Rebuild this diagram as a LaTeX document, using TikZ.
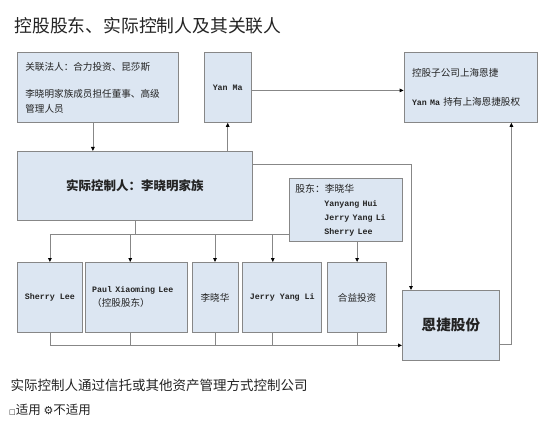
\documentclass[tikz,border=0pt]{standalone}
\usepackage{fontspec}
\setmainfont{Noto Sans CJK SC}
\newfontfamily\monof{Liberation Mono}
\newfontfamily\symf{DejaVu Sans}
\usetikzlibrary{arrows.meta, positioning}
\definecolor{kuanglan}{RGB}{220, 230, 242}
\definecolor{xianhui}{RGB}{135, 135, 135}
\definecolor{zihei}{RGB}{35, 35, 35}
\newcommand{\en}[1]{{\monof\bfseries #1}}

\begin{document}
\begin{tikzpicture}[x=1pt, y=-1pt,
                box/.style={draw=xianhui, fill=kuanglan, line width=0.8pt, inner sep=0pt, minimum height=70pt, text=zihei, font=\fontsize{9.6}{14}\selectfont},
                link/.style={draw=xianhui, line width=0.8pt},
                arrow/.style={link, -{Triangle[length=4pt, width=3.6pt, color=black]}}
            ]
                \useasboundingbox (0,0) rectangle (554,422);
                \node[anchor=west, text=zihei, font=\fontsize{17.8}{20}\selectfont] (title) at (11,26) {控股股东、实际控制人及其关联人};

                % 上排
                \node[box, anchor=north west, minimum width=161pt, text width=145pt, align=left, font=\fontsize{9.6}{15}\selectfont] (rel) at (17,52) {关联法人：合力投资、昆莎斯\\[12pt]李晓明家族成员担任董事、高级\\管理人员};
                \node[box, minimum width=47pt, right=25pt of rel] (yanma) {\en{\fontsize{8.3}{10}\selectfont Yan Ma}};
                \node[box, minimum width=133pt, text width=117pt, align=left, right=152pt of yanma] (sub) {控股子公司上海恩捷\\[15pt]\en{\fontsize{8.3}{10}\selectfont Yan Ma} 持有上海恩捷股权};

                % 实际控制人
                \node[box, anchor=north west, minimum width=235pt, minimum height=69pt, font=\bfseries\fontsize{12.5}{14}\selectfont] (ctrl) at (17,151) {实际控制人：李晓明家族};
                \node[box, anchor=north west, minimum width=113pt, minimum height=63pt, text width=101pt, align=left, font=\fontsize{9.8}{14}\selectfont] (holder) at (289,178) {股东：李晓华\\\hspace*{29pt}\en{\fontsize{8.3}{10}\selectfont Yanyang Hui}\\\hspace*{29pt}\en{\fontsize{8.3}{10}\selectfont Jerry Yang Li}\\\hspace*{29pt}\en{\fontsize{8.3}{10}\selectfont Sherry Lee}};

                % 下排
                \node[box, anchor=north west, minimum width=65pt] (sherry) at (17,262) {\en{\fontsize{8.3}{10}\selectfont Sherry Lee}};
                \node[box, minimum width=102pt, text width=88pt, align=left, right=2pt of sherry, font=\fontsize{9.6}{14}\selectfont] (paul) {\en{\fontsize{8.3}{10}\selectfont Paul Xiaoming Lee}\\（控股股东）};
                \node[box, minimum width=46pt, right=4pt of paul] (lxh) {李晓华};
                \node[box, minimum width=79pt, right=4pt of lxh] (jerry) {\en{\fontsize{8.3}{10}\selectfont Jerry Yang Li}};
                \node[box, minimum width=59pt, right=5pt of jerry] (hey) {合益投资};
                \node[box, anchor=north west, minimum width=97pt, font=\bfseries\fontsize{14.6}{16}\selectfont] (enjie) at (402,290) {恩捷股份};

                % 下方文字
                \node[anchor=west, text=zihei, font=\fontsize{13.5}{16}\selectfont] (note) at (7,385) {实际控制人通过信托或其他资产管理方式控制公司};
                \node[anchor=west, text=zihei, inner xsep=0pt, font=\fontsize{12.5}{15}\selectfont] (apply) at (9,410) {{\symf\fontsize{7}{8}\selectfont □}适用 {\symf\fontsize{11}{12}\selectfont ⚙}不适用};

                % 连线
                \coordinate (relout) at ([xshift=-5pt]rel.south);
                \draw[arrow] (relout) -- (relout |- ctrl.north);
                \draw[arrow] (yanma.south |- ctrl.north) -- (yanma.south);
                \draw[arrow] ([yshift=-3pt]yanma.east) -- ([yshift=-3pt]yanma.east -| sub.west);
                \draw[arrow] ([yshift=-13pt]ctrl.north east) -| ([xshift=9pt]enjie.north west);

                \coordinate (fork) at ([yshift=-14pt]ctrl.south);
                \coordinate (paulin) at ([xshift=-6pt]paul.north);
                \coordinate (jerryin) at ([xshift=-9.5pt]jerry.north);
                \draw[link] (ctrl.south) -- (fork);
                \draw[link] (sherry.north |- fork) -- (holder.west |- fork);
                \draw[arrow] (sherry.north |- fork) -- (sherry.north);
                \draw[arrow] (paulin |- fork) -- (paulin);
                \draw[arrow] (lxh.north |- fork) -- (lxh.north);
                \draw[arrow] (jerryin |- fork) -- (jerryin);
                \draw[arrow] (hey.north |- holder.south) -- (hey.north);

                \coordinate (sum) at ([yshift=-20pt]enjie.west);
                \draw[link] (sherry.south) -- (sherry.south |- sum);
                \draw[link] (paulin |- paul.south) -- (paulin |- sum);
                \draw[link] (lxh.south) -- (lxh.south |- sum);
                \draw[link] (jerryin |- jerry.south) -- (jerryin |- sum);
                \draw[link] (hey.south) -- (hey.south |- sum);
                \draw[arrow] (sherry.south |- sum) -- (sum);

                \coordinate (subin) at ([xshift=-26pt]sub.south east);
                \draw[arrow] ([yshift=-19pt]enjie.east) -| (subin);
            \end{tikzpicture}
\end{document}
